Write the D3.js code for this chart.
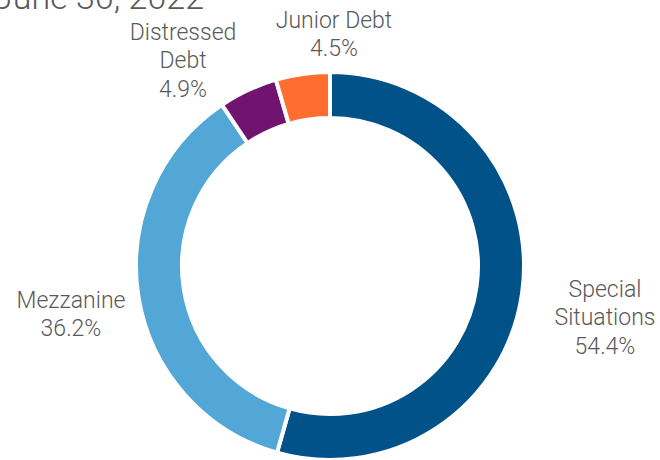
<!DOCTYPE html>
<html>
<head>
<meta charset="utf-8">
<script src="https://cdn.jsdelivr.net/npm/d3@7"></script>
<style>
  html, body { margin: 0; padding: 0; background: #ffffff; }
  svg { display: block; }
  text { font-family: "Roboto Light", Roboto, "Noto Sans", sans-serif; font-weight: 300; fill: #595959; }
</style>
</head>
<body>
<svg id="chart" width="660" height="460"></svg>
<script>
// Portfolio mix by strategy
const categories = ["Special Situations", "Mezzanine", "Distressed Debt", "Junior Debt"];
const shares = [54.4, 36.2, 4.9, 4.5];
const labelLines = [["Special", "Situations"], ["Mezzanine"], ["Distressed", "Debt"], ["Junior Debt"]];
const titleText = "June 30, 2022";

const colors = ["#005288", "#52a7d6", "#711471", "#ff6d2f"];

const width = 660, height = 460;
const cx = 330, cy = 266;
const outerR = 194, innerR = 148;

const svg = d3.select("#chart");

// Title, running off the top-left edge
svg.append("text")
  .attr("x", 204)
  .attr("y", 9)
  .attr("text-anchor", "end")
  .style("font-size", "34px")
  .text(titleText);

const data = categories.map((c, i) => ({ name: c, value: shares[i], lines: labelLines[i], color: colors[i] }));

const pie = d3.pie()
  .value(d => d.value)
  .sort(null)
  .startAngle(0)
  .endAngle(2 * Math.PI);

const arc = d3.arc().innerRadius(innerR).outerRadius(outerR);

const g = svg.append("g").attr("transform", `translate(${cx},${cy})`);

const arcs = pie(data);

g.selectAll("path.slice")
  .data(arcs)
  .join("path")
  .attr("class", "slice")
  .attr("d", arc)
  .attr("fill", d => d.data.color)
  .attr("stroke", "#ffffff")
  .attr("stroke-width", 4)
  .attr("stroke-linejoin", "miter");

// Centre of each label block, relative to the ring's centre
const labelCenters = {
  "Special Situations": [275, 51],
  "Mezzanine": [-259, 48],
  "Distressed Debt": [-147, -206],
  "Junior Debt": [4, -232]
};

const lineH = 28.3;
const fontSize = 23;

arcs.forEach(a => {
  const d = a.data;
  const base = labelCenters[d.name];
  const lines = d.lines.concat([d3.format(".1f")(d.value) + "%"]);
  const blockH = lines.length * lineH;
  const t = g.append("text")
    .attr("text-anchor", "middle")
    .style("font-size", fontSize + "px");
  lines.forEach((ln, i) => {
    t.append("tspan")
      .attr("x", base[0])
      .attr("y", base[1] - blockH / 2 + lineH * (i + 0.5) + fontSize * 0.36)
      .text(ln);
  });
});
</script>
</body>
</html>
